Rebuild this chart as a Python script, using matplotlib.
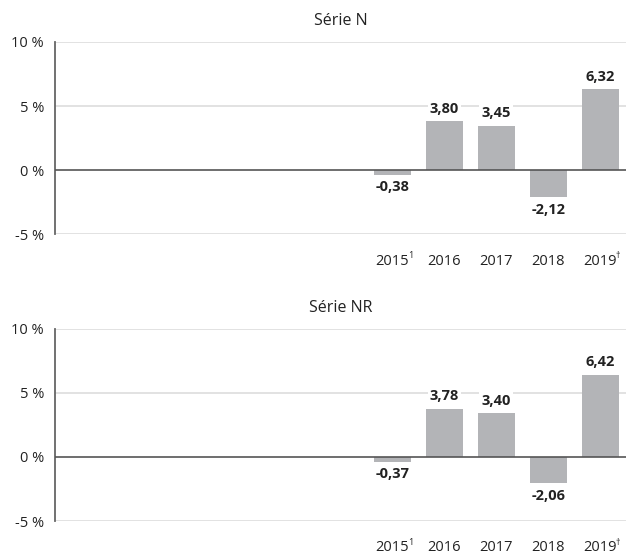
import matplotlib
matplotlib.use("Agg")
import matplotlib.pyplot as plt

# Data
years = ["", "", "", "", "", "", "2015", "2016", "2017", "2018", "2019"]
year_notes = ["", "", "", "", "", "", "1", "", "", "", "\u2020"]
serie_n = [None, None, None, None, None, None, -0.38, 3.80, 3.45, -2.12, 6.32]
serie_nr = [None, None, None, None, None, None, -0.37, 3.78, 3.40, -2.06, 6.42]
titles = ["Série N", "Série NR"]
yticks = [-5, 0, 5, 10]

bar_color = "#b3b4b7"
text_color = "#222222"
plt.rcParams['font.family'] = ['Open Sans', 'DejaVu Sans']

fig = plt.figure(figsize=(6.27, 5.56), dpi=100)
ax_top = fig.add_axes([0.0877, 0.579, 0.911, 0.3455])
ax_bot = fig.add_axes([0.0877, 0.0629, 0.911, 0.3455])

for ax, values, title in zip([ax_top, ax_bot], [serie_n, serie_nr], titles):
    xs = [i for i, v in enumerate(values) if v is not None]
    vals = [v for v in values if v is not None]
    ax.bar(xs, vals, width=0.72, color=bar_color, zorder=2)
    ax.set_xlim(-0.5, len(values) - 0.5)
    ax.set_ylim(-5, 10)
    ax.set_yticks(yticks)
    ax.set_yticklabels([f"{t} %" for t in yticks], fontsize=10.5, color=text_color)
    ax.set_xticks(range(len(values)))
    ax.set_xticklabels(years, fontsize=10.5, color=text_color)
    ax.tick_params(axis="x", length=0, pad=14)
    ax.tick_params(axis="y", length=0, pad=8)
    # superscript notes next to the year labels
    for i, note in enumerate(year_notes):
        if note:
            ax.annotate(note, (i, 0), xycoords=ax.get_xaxis_transform(),
                        xytext=(11, -12.5), textcoords="offset points",
                        ha="left", va="top", fontsize=6.5, color=text_color)
    for t in [-5, 5, 10]:
        ax.axhline(t, color="#dddddd", lw=1.2, zorder=1)
    ax.axhline(0, color="#555555", lw=1.2, zorder=3)
    for s in ["top", "right", "bottom"]:
        ax.spines[s].set_visible(False)
    ax.spines["left"].set_color("#666666")
    ax.spines["left"].set_linewidth(1.3)
    ax.set_title(title, fontsize=11.5, pad=12, color=text_color)
    for x, v in zip(xs, vals):
        label = f"{v:.2f}".replace(".", ",")
        if v >= 0:
            ax.annotate(label, (x, v), xytext=(0, 4), textcoords="offset points",
                        ha="center", va="bottom", fontsize=10.5, fontweight="bold",
                        color=text_color, zorder=4,
                        bbox=dict(boxstyle="square,pad=0.15", fc="white", ec="none"))
        else:
            ax.annotate(label, (x, v), xytext=(0, -4), textcoords="offset points",
                        ha="center", va="top", fontsize=10.5, fontweight="bold",
                        color=text_color, zorder=4,
                        bbox=dict(boxstyle="square,pad=0.15", fc="white", ec="none"))

fig.savefig("out.png", dpi=100)
